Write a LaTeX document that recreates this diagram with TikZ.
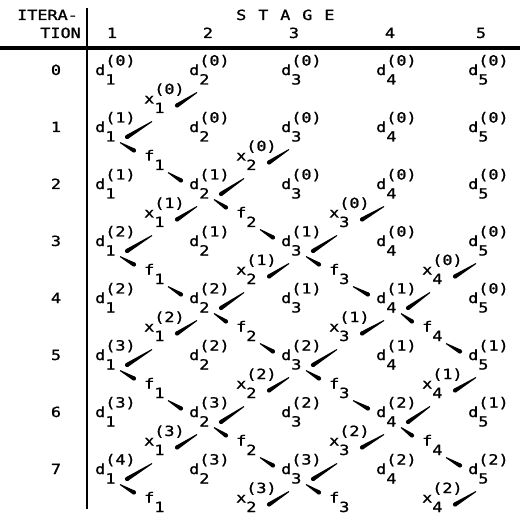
\documentclass[tikz,border=0pt]{standalone}
\usepackage{fontspec}
\newfontfamily\tw{DejaVu Sans Mono}[FakeStretch=1.2,FakeBold=1.2]
\usetikzlibrary{calc}
\newcommand\dl[2]{d\rlap{\raisebox{-9.5pt}{#1}}\raisebox{9.5pt}{(#2)}}
\newcommand\xl[2]{x\rlap{\raisebox{-9.5pt}{#1}}\raisebox{9.5pt}{(#2)}}
\newcommand\fl[1]{f\raisebox{-9.5pt}{#1}}
\newcommand\mystroke[2]{%
  \path #1 coordinate (sT) #2 coordinate (sH);
  \fill ($(sT)!0.5pt!90:(sH)$) -- ($(sH)!2.1pt!-90:(sT)$) -- ($(sH)!2.1pt!90:(sT)$) -- ($(sT)!0.5pt!-90:(sH)$) -- cycle;
  \fill (sH) circle (2.1pt);
}
\begin{document}
\begin{tikzpicture}[x=1pt,y=-1pt,
  lab/.style={anchor=base west,inner sep=0pt,font=\tw\fontsize{14pt}{16pt}\selectfont}]
\useasboundingbox (0,0) rectangle (520,516);
\fill[white] (0,0) rectangle (520,516);
% header
\node[lab] (itera) at (17,20) {ITERA-};
\node[lab,anchor=base east] (tion) at (81,38) {TION};
\node[lab] (stage) at (236,20) {S\hspace{1.8pt} T\hspace{1.8pt} A\hspace{1.8pt} G\hspace{1.8pt} E};
\foreach \c/\xx in {1/112,2/208,3/294,4/390,5/481}
  \node[lab,anchor=base] (h\c) at (\xx,38) {\c};
\draw[line width=3.5pt] (0,48) -- (520,48);
\draw[line width=2.2pt] (87,8) -- (87,509);
% row labels
\foreach \r in {0,...,7}
  \node[lab,anchor=base] (r\r) at (56,{75+57*\r}) {\r};
% d values
\foreach \r in {0,...,7}{
  \foreach \c in {1,...,5}{
    \pgfmathtruncatemacro\k{max(0,floor((\r-\c+2)/2))}
    \pgfmathsetmacro\xx{{95,189,281,376,468}[\c-1]}
    \node[lab] (d\c-\r) at (\xx,{75+57*\r}) {\dl{\c}{\k}};
  }
}
% intermediate x and f with their strokes
\foreach \g in {0,...,7}{
  \pgfmathtruncatemacro\pmax{min(4,\g+1)}
  \pgfmathtruncatemacro\gg{\g+1}
  \foreach \p in {1,...,\pmax}{
    \pgfmathsetmacro\xx{{144,236,329,422}[\p-1]}
    \pgfmathtruncatemacro\q{\p+1}
    \pgfmathtruncatemacro\isx{mod(\g-\p+2,2)}
    \pgfmathtruncatemacro\k{(\g+1-\p)/2}
    \ifnum\isx=1
      \node[lab] (m\p-\g) at (\xx,{75+57*\g+28.5}) {\xl{\p}{\k}};
      \mystroke{($(d\q-\g.base west)+(8,17.5)$)}{($(m\p-\g.base west)+(33,2)$)}
      \ifnum\g<7 \mystroke{($(m\p-\g.base west)+(8,18)$)}{($(d\p-\gg.base west)+(32,5)$)}\fi
    \else
      \node[lab] (m\p-\g) at (\xx,{75+57*\g+28.5}) {\fl{\p}};
      \mystroke{($(d\p-\g.base west)+(25,10.5)$)}{($(m\p-\g.base west)+(-10,-10)$)}
      \ifnum\g<7 \mystroke{($(m\p-\g.base west)+(24,12)$)}{($(d\q-\gg.base west)+(-8,-8.5)$)}\fi
    \fi
  }
}
\end{tikzpicture}
\end{document}
